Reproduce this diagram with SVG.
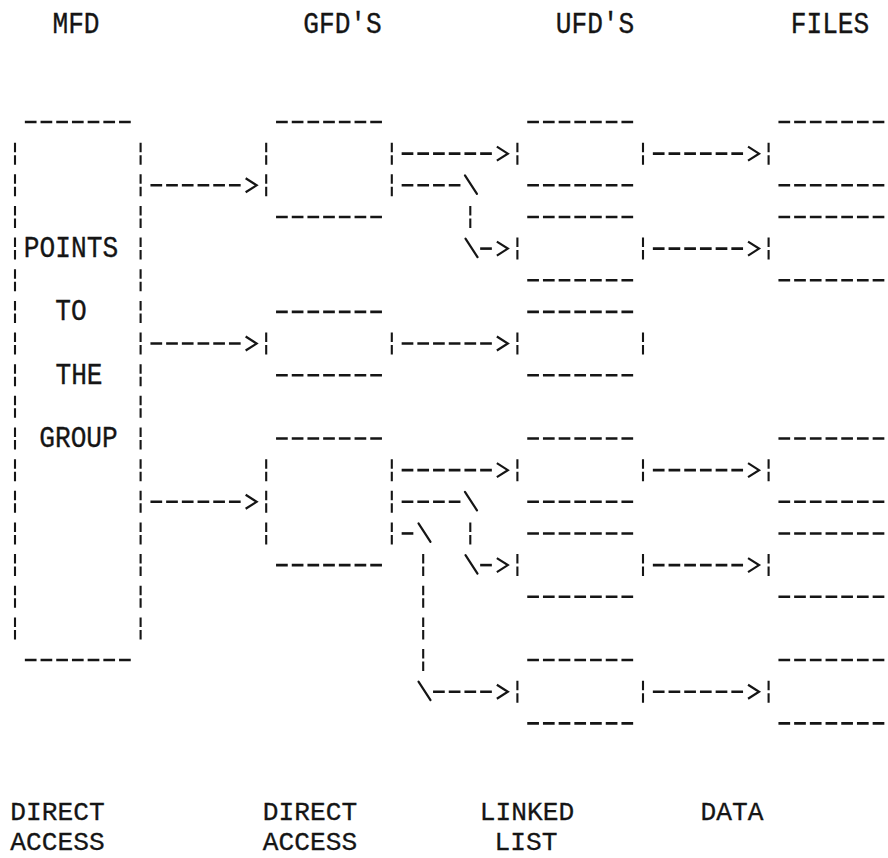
<svg xmlns="http://www.w3.org/2000/svg" width="888" height="858" viewBox="0 0 888 858">
<style>
.d{stroke:#151515;stroke-width:2.6;stroke-dasharray:11.7 4;fill:none}
.p{stroke:#151515;stroke-width:2.1;stroke-dasharray:9.5 3 9.5 9.65;fill:none}
.s{stroke:#151515;stroke-width:2.2;fill:none;stroke-linecap:round}
.t{font-family:"Liberation Mono","DejaVu Sans Mono",monospace;font-size:26.2px;fill:#151515;stroke:#151515;stroke-width:0.3;text-anchor:middle}
.a{marker-end:url(#chev)}
</style>
<defs>
<marker id="chev" markerUnits="userSpaceOnUse" markerWidth="18" markerHeight="18" refX="0" refY="9" orient="auto" overflow="visible">
<path d="M3,2 L14,9 L3,16" fill="none" stroke="#151515" stroke-width="2.2" stroke-dasharray="none"/>
</marker>
</defs>
<rect width="888" height="858" fill="#fff"/>

<g id="headers">
<text class="t" transform="translate(76,32.5) scale(1,1.1)">MFD</text>
<text class="t" transform="translate(342.5,32.5) scale(1,1.1)">GFD'S</text>
<text class="t" transform="translate(595,32.5) scale(1,1.1)">UFD'S</text>
<text class="t" transform="translate(830,32.5) scale(1,1.1)">FILES</text>
</g>

<g id="node-mfd">
<line class="d" x1="24.85" y1="122" x2="130.75" y2="122"/>
<line class="d" x1="24.85" y1="660.05" x2="130.75" y2="660.05"/>
<line class="p" x1="15" y1="142.65" x2="15" y2="639.4"/>
<line class="p" x1="140.6" y1="142.65" x2="140.6" y2="639.4"/>
<text class="t" transform="translate(71,257.1) scale(1,1.1)">POINTS</text>
<text class="t" transform="translate(71,320.4) scale(1,1.1)">TO</text>
<text class="t" transform="translate(79,383.7) scale(1,1.1)">THE</text>
<text class="t" transform="translate(78.5,447) scale(1,1.1)">GROUP</text>
</g>

<g id="node-gfd-1">
<line class="d" x1="276.05" y1="122" x2="381.95" y2="122"/>
<line class="d" x1="276.05" y1="216.95" x2="381.95" y2="216.95"/>
<line class="p" x1="266.2" y1="142.65" x2="266.2" y2="196.3"/>
<line class="p" x1="391.8" y1="142.65" x2="391.8" y2="196.3"/>
</g>
<g id="node-gfd-2">
<line class="d" x1="276.05" y1="311.9" x2="381.95" y2="311.9"/>
<line class="d" x1="276.05" y1="375.2" x2="381.95" y2="375.2"/>
<line class="p" x1="266.2" y1="332.55" x2="266.2" y2="354.55"/>
<line class="p" x1="391.8" y1="332.55" x2="391.8" y2="354.55"/>
</g>
<g id="node-gfd-3">
<line class="d" x1="276.05" y1="438.5" x2="381.95" y2="438.5"/>
<line class="d" x1="276.05" y1="565.1" x2="381.95" y2="565.1"/>
<line class="p" x1="266.2" y1="459.15" x2="266.2" y2="544.45"/>
<line class="p" x1="391.8" y1="459.15" x2="391.8" y2="544.45"/>
</g>

<g id="node-ufd-1">
<line class="d" x1="527.25" y1="122" x2="633.15" y2="122"/>
<line class="d" x1="527.25" y1="185.3" x2="633.15" y2="185.3"/>
<line class="p" x1="517.4" y1="142.65" x2="517.4" y2="164.65"/>
<line class="p" x1="643" y1="142.65" x2="643" y2="164.65"/>
</g>
<g id="node-ufd-2">
<line class="d" x1="527.25" y1="216.95" x2="633.15" y2="216.95"/>
<line class="d" x1="527.25" y1="280.25" x2="633.15" y2="280.25"/>
<line class="p" x1="517.4" y1="237.6" x2="517.4" y2="259.6"/>
<line class="p" x1="643" y1="237.6" x2="643" y2="259.6"/>
</g>
<g id="node-ufd-3">
<line class="d" x1="527.25" y1="311.9" x2="633.15" y2="311.9"/>
<line class="d" x1="527.25" y1="375.2" x2="633.15" y2="375.2"/>
<line class="p" x1="517.4" y1="332.55" x2="517.4" y2="354.55"/>
<line class="p" x1="643" y1="332.55" x2="643" y2="354.55"/>
</g>
<g id="node-ufd-4">
<line class="d" x1="527.25" y1="438.5" x2="633.15" y2="438.5"/>
<line class="d" x1="527.25" y1="501.8" x2="633.15" y2="501.8"/>
<line class="p" x1="517.4" y1="459.15" x2="517.4" y2="481.15"/>
<line class="p" x1="643" y1="459.15" x2="643" y2="481.15"/>
</g>
<g id="node-ufd-5">
<line class="d" x1="527.25" y1="533.45" x2="633.15" y2="533.45"/>
<line class="d" x1="527.25" y1="596.75" x2="633.15" y2="596.75"/>
<line class="p" x1="517.4" y1="554.1" x2="517.4" y2="576.1"/>
<line class="p" x1="643" y1="554.1" x2="643" y2="576.1"/>
</g>
<g id="node-ufd-6">
<line class="d" x1="527.25" y1="660.05" x2="633.15" y2="660.05"/>
<line class="d" x1="527.25" y1="723.35" x2="633.15" y2="723.35"/>
<line class="p" x1="517.4" y1="680.7" x2="517.4" y2="702.7"/>
<line class="p" x1="643" y1="680.7" x2="643" y2="702.7"/>
</g>

<g id="node-file-1">
<line class="d" x1="778.45" y1="122" x2="884.35" y2="122"/>
<line class="d" x1="778.45" y1="185.3" x2="884.35" y2="185.3"/>
<line class="p" x1="768.6" y1="142.65" x2="768.6" y2="164.65"/>
</g>
<g id="node-file-2">
<line class="d" x1="778.45" y1="216.95" x2="884.35" y2="216.95"/>
<line class="d" x1="778.45" y1="280.25" x2="884.35" y2="280.25"/>
<line class="p" x1="768.6" y1="237.6" x2="768.6" y2="259.6"/>
</g>
<g id="node-file-3">
<line class="d" x1="778.45" y1="438.5" x2="884.35" y2="438.5"/>
<line class="d" x1="778.45" y1="501.8" x2="884.35" y2="501.8"/>
<line class="p" x1="768.6" y1="459.15" x2="768.6" y2="481.15"/>
</g>
<g id="node-file-4">
<line class="d" x1="778.45" y1="533.45" x2="884.35" y2="533.45"/>
<line class="d" x1="778.45" y1="596.75" x2="884.35" y2="596.75"/>
<line class="p" x1="768.6" y1="554.1" x2="768.6" y2="576.1"/>
</g>
<g id="node-file-5">
<line class="d" x1="778.45" y1="660.05" x2="884.35" y2="660.05"/>
<line class="d" x1="778.45" y1="723.35" x2="884.35" y2="723.35"/>
<line class="p" x1="768.6" y1="680.7" x2="768.6" y2="702.7"/>
</g>

<g id="connectors">
<g id="mfd-gfd">
<path class="d a" d="M150.45,185.3 H242.65"/>
<path class="d a" d="M150.45,343.55 H242.65"/>
<path class="d a" d="M150.45,501.8 H242.65"/>
</g>
<g id="gfd1-ufd1"><path class="d a" d="M401.65,153.65 H493.85"/></g>
<g id="gfd1-ufd2">
<path class="d" d="M401.65,185.3 H462.45"/>
<line class="s" x1="464.95" y1="175.3" x2="476.95" y2="193.8"/>
<line class="p" x1="470.3" y1="205.95" x2="470.3" y2="227.95"/>
<line class="s" x1="465.5" y1="238.6" x2="477.5" y2="257.1"/>
<path class="d a" d="M480.15,248.6 H493.85"/>
</g>
<g id="gfd2-ufd3"><path class="d a" d="M401.65,343.55 H493.85"/></g>
<g id="gfd3-ufd4"><path class="d a" d="M401.65,470.15 H493.85"/></g>
<g id="gfd3-ufd5">
<path class="d" d="M401.65,501.8 H462.45"/>
<line class="s" x1="464.95" y1="491.8" x2="476.95" y2="510.3"/>
<line class="p" x1="470.3" y1="522.45" x2="470.3" y2="544.45"/>
<line class="s" x1="465.5" y1="555.1" x2="477.5" y2="573.6"/>
<path class="d a" d="M480.15,565.1 H493.85"/>
</g>
<g id="gfd3-ufd6">
<path class="d" d="M401.65,533.45 H415.35"/>
<line class="s" x1="418.5" y1="523.45" x2="430.5" y2="541.95"/>
<line class="p" x1="423.2" y1="554.1" x2="423.2" y2="671.05"/>
<line class="s" x1="418.5" y1="681.7" x2="430.5" y2="700.2"/>
<path class="d a" d="M433.05,691.7 H493.85"/>
</g>
<g id="ufd-files">
<path class="d a" d="M652.85,153.65 H745.05"/>
<path class="d a" d="M652.85,248.6 H745.05"/>
<path class="d a" d="M652.85,470.15 H745.05"/>
<path class="d a" d="M652.85,565.1 H745.05"/>
<path class="d a" d="M652.85,691.7 H745.05"/>
</g>
</g>

<g id="footers">
<text class="t" x="57.5" y="819.5">DIRECT</text>
<text class="t" x="57.5" y="849.5">ACCESS</text>
<text class="t" x="310" y="819.5">DIRECT</text>
<text class="t" x="310" y="849.5">ACCESS</text>
<text class="t" x="527" y="819.5">LINKED</text>
<text class="t" x="526" y="849.5">LIST</text>
<text class="t" x="732" y="819.5">DATA</text>
</g>
</svg>
